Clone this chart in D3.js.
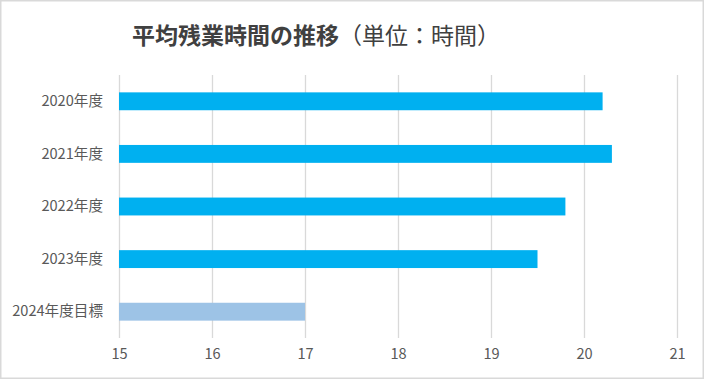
<!DOCTYPE html>
<meta charset="utf-8">
<script src="https://d3js.org/d3.v7.min.js"></script>
<style>
  body { margin: 0; background: #fff; }
  text { font-family: "Noto Sans CJK JP", "Noto Sans", sans-serif; }
</style>
<div id="my_dataviz"></div>
<script>
  // data
  var categories = ["2020年度", "2021年度", "2022年度", "2023年度", "2024年度目標"];
  var hours = [20.2, 20.3, 19.8, 19.5, 17.0];
  var barColors = ["#00b0f0", "#00b0f0", "#00b0f0", "#00b0f0", "#9dc3e6"];
  var xTicks = [15, 16, 17, 18, 19, 20, 21];

  var W = 704, H = 379;
  var margin = {top: 75, right: 27, bottom: 41, left: 119};

  var svg = d3.select("#my_dataviz")
    .append("svg")
      .attr("width", W)
      .attr("height", H);

  // outer frame
  svg.append("rect")
    .attr("x", 0.75).attr("y", 0.75)
    .attr("width", W - 1.5).attr("height", H - 1.5)
    .attr("fill", "#fff")
    .attr("stroke", "#d9d9d9")
    .attr("stroke-width", 1.5);

  var x = d3.scaleLinear()
    .domain([15, 21])
    .range([margin.left, W - margin.right]);

  var y = d3.scaleBand()
    .domain(categories)
    .range([margin.top, H - margin.bottom])
    .paddingInner(0.66)
    .paddingOuter(0.33);

  // vertical gridlines
  svg.append("g")
    .attr("class", "grid")
    .attr("transform", "translate(0," + margin.top + ")")
    .call(d3.axisBottom(x)
      .tickValues(xTicks)
      .tickSize(H - margin.bottom - margin.top)
      .tickFormat(""))
    .call(function(g) { g.select(".domain").remove(); })
    .selectAll("line")
      .attr("stroke", "#d9d9d9")
      .attr("stroke-width", 1.3);

  // bars
  svg.selectAll(".bar")
    .data(categories)
    .enter()
    .append("rect")
      .attr("class", "bar")
      .attr("x", x(15))
      .attr("y", function(d) { return y(d); })
      .attr("width", function(d, i) { return x(hours[i]) - x(15); })
      .attr("height", y.bandwidth())
      .attr("fill", function(d, i) { return barColors[i]; });

  // x tick labels
  var xAxis = svg.append("g")
    .attr("transform", "translate(0," + (H - margin.bottom) + ")")
    .call(d3.axisBottom(x).tickValues(xTicks).tickSize(0).tickPadding(11).tickFormat(d3.format("d")));
  xAxis.select(".domain").remove();
  xAxis.selectAll("text")
    .attr("fill", "#595959")
    .style("font-size", "14.6px");

  // y labels
  var yAxis = svg.append("g")
    .attr("transform", "translate(" + margin.left + ",0)")
    .call(d3.axisLeft(y).tickSize(0).tickPadding(16));
  yAxis.select(".domain").remove();
  yAxis.selectAll("text")
    .attr("fill", "#595959")
    .style("font-size", "14.6px");

  // title
  var title = svg.append("text")
    .attr("x", 132)
    .attr("y", 44)
    .attr("fill", "#404040")
    .style("font-size", "23px");
  title.append("tspan")
    .attr("font-weight", "bold")
    .text("平均残業時間の推移");
  title.append("tspan")
    .text("（単位：時間）");
</script>
